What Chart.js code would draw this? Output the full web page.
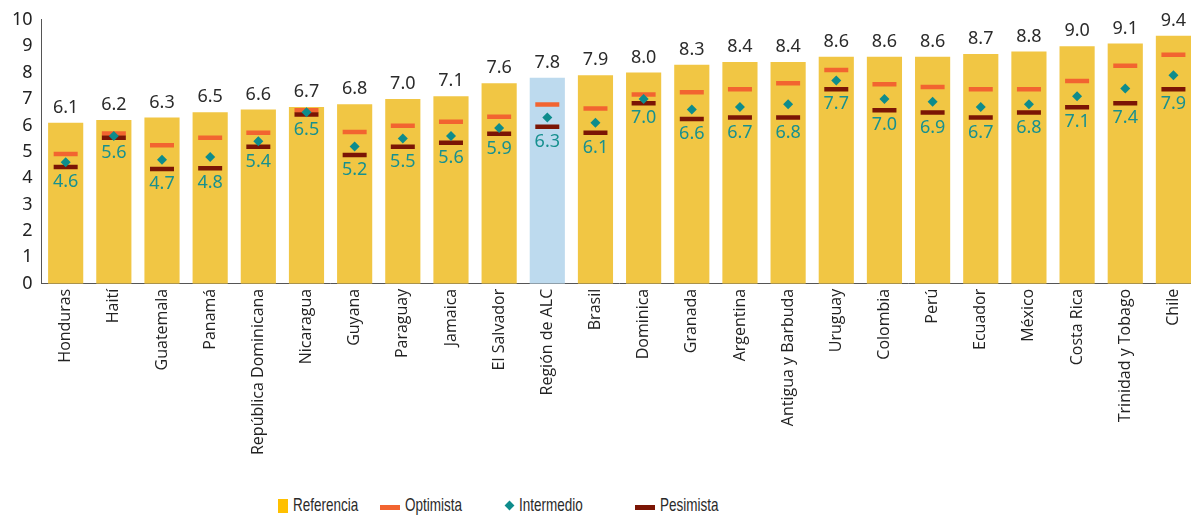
<!DOCTYPE html>
<html>
<head>
<meta charset="utf-8">
<script src="https://cdn.jsdelivr.net/npm/chart.js@4.4.1/dist/chart.umd.min.js"></script>
<style>
  html, body { margin: 0; padding: 0; background: #fff; overflow: hidden; }
  #wrap { position: relative; width: 1214px; height: 515px; }
  #chart { position: absolute; left: 0; top: 0; }
  .leg { position: absolute; top: 495px; font-family: "Liberation Sans", Arial, sans-serif; font-size: 19px; color: #2a2a2a; line-height: 20px; transform: scaleX(0.71); transform-origin: 0 0; white-space: nowrap; }
  .mk { position: absolute; }
</style>
</head>
<body>
<div id="wrap">
  <canvas id="chart" width="1214" height="482"></canvas>
  <div class="mk" style="left:278px;top:499px;width:10px;height:14px;background:#FFC000"></div>
  <div class="leg" style="left:293px">Referencia</div>
  <div class="mk" style="left:380px;top:505px;width:20px;height:5px;background:#F26430"></div>
  <div class="leg" style="left:405px">Optimista</div>
  <div class="mk" style="left:506px;top:502px;width:7px;height:7px;background:#0E8C8C;transform:rotate(45deg)"></div>
  <div class="leg" style="left:519px">Intermedio</div>
  <div class="mk" style="left:635px;top:505px;width:20px;height:5px;background:#7B1505"></div>
  <div class="leg" style="left:660px">Pesimista</div>
</div>
<script>
// Datos del gráfico
const categories = ['Honduras', 'Haití', 'Guatemala', 'Panamá', 'República Dominicana', 'Nicaragua', 'Guyana',
  'Paraguay', 'Jamaica', 'El Salvador', 'Región de ALC', 'Brasil', 'Dominica', 'Granada', 'Argentina',
  'Antigua y Barbuda', 'Uruguay', 'Colombia', 'Perú', 'Ecuador', 'México', 'Costa Rica', 'Trinidad y Tobago', 'Chile'];
const referencia = [6.1, 6.2, 6.3, 6.5, 6.6, 6.7, 6.8, 7.0, 7.1, 7.6, 7.8, 7.9, 8.0, 8.3, 8.4, 8.4, 8.6, 8.6, 8.6, 8.7, 8.8, 9.0, 9.1, 9.4];
const optimista = [4.92, 5.69, 5.25, 5.53, 5.72, 6.57, 5.75, 5.99, 6.14, 6.33, 6.79, 6.64, 7.17, 7.26, 7.37, 7.6, 8.1, 7.56, 7.45, 7.37, 7.37, 7.68, 8.26, 8.68];
const intermedio = [4.6, 5.6, 4.7, 4.8, 5.4, 6.5, 5.2, 5.5, 5.6, 5.9, 6.3, 6.1, 7.0, 6.6, 6.7, 6.8, 7.7, 7.0, 6.9, 6.7, 6.8, 7.1, 7.4, 7.9];
const pesimista = [4.42, 5.53, 4.35, 4.38, 5.19, 6.41, 4.88, 5.19, 5.34, 5.68, 5.95, 5.72, 6.84, 6.24, 6.3, 6.3, 7.37, 6.57, 6.49, 6.3, 6.49, 6.69, 6.84, 7.37];
const yTicks = [0, 1, 2, 3, 4, 5, 6, 7, 8, 9, 10];

const barColors = categories.map(c => c === 'Región de ALC' ? '#BDDAEE' : '#F1C644');

// Etiquetas de valores sobre las barras y bajo los marcadores
const valueLabels = {
  id: 'valueLabels',
  afterDatasetsDraw(chart) {
    const ctx = chart.ctx;
    const y = chart.scales.y;
    const bars = chart.getDatasetMeta(0).data;
    ctx.save();
    ctx.textAlign = 'center';
    ctx.textBaseline = 'middle';
    ctx.font = '18px "Noto Sans", sans-serif';
    bars.forEach((bar, i) => {
      ctx.fillStyle = '#2b2b2b';
      ctx.fillText(referencia[i].toFixed(1), bar.x, y.getPixelForValue(referencia[i]) - 15);
      ctx.fillStyle = '#17908F';
      const low = Math.max(y.getPixelForValue(pesimista[i]), y.getPixelForValue(intermedio[i]));
      ctx.fillText(intermedio[i].toFixed(1), bar.x, low + 15);
    });
    ctx.restore();
  }
};

new Chart(document.getElementById('chart'), {
  type: 'bar',
  data: {
    labels: categories,
    datasets: [
      {
        label: 'Referencia',
        data: referencia,
        backgroundColor: barColors,
        categoryPercentage: 1,
        barPercentage: 0.73,
        order: 4
      },
      {
        type: 'line',
        label: 'Optimista',
        data: optimista,
        showLine: false,
        pointStyle: 'line',
        pointRadius: 12,
        pointBorderWidth: 4.5,
        pointBorderColor: '#F26430',
        order: 3
      },
      {
        type: 'line',
        label: 'Pesimista',
        data: pesimista,
        showLine: false,
        pointStyle: 'line',
        pointRadius: 12,
        pointBorderWidth: 4.5,
        pointBorderColor: '#7B1505',
        order: 2
      },
      {
        type: 'line',
        label: 'Intermedio',
        data: intermedio,
        showLine: false,
        pointStyle: 'rectRot',
        pointRadius: 5,
        pointBorderWidth: 0,
        pointBackgroundColor: '#0E8C8C',
        order: 1
      }
    ]
  },
  options: {
    responsive: false,
    animation: false,
    layout: { padding: { left: 3, top: 17, right: 0, bottom: 22 } },
    plugins: { legend: { display: false }, tooltip: { enabled: false } },
    scales: {
      x: {
        grid: { display: false, drawTicks: false },
        border: { display: true, color: '#555', width: 1 },
        ticks: {
          autoSkip: false, maxRotation: 90, minRotation: 90, padding: 5,
          color: '#222', font: { family: '"Open Sans", sans-serif', size: 16 }
        }
      },
      y: {
        min: 0, max: 10,
        afterBuildTicks: axis => { axis.ticks = yTicks.map(v => ({ value: v })); },
        grid: { display: false, drawTicks: false },
        border: { display: true, color: '#555', width: 1 },
        ticks: { padding: 9, color: '#222', font: { family: '"Noto Sans", sans-serif', size: 18 } }
      }
    }
  },
  plugins: [valueLabels]
});
</script>
</body>
</html>
